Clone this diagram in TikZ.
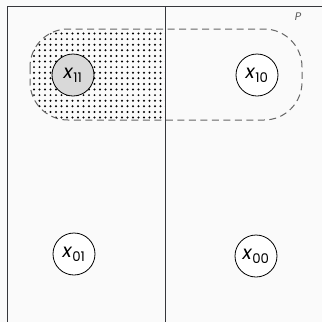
\documentclass[tikz,border=0pt]{standalone}
\usepackage{fontspec}
\setmainfont{Poppins}
\begin{document}
\begin{tikzpicture}[x=1pt,y=-1pt,
  framel/.style={draw=black!80!cyan!60!black, line width=1pt},
  var/.style={circle, draw=black, line width=0.8pt, minimum size=42pt, inner sep=0pt, font=\fontsize{19}{21}\selectfont, fill=white},
  region/.style={draw=black!60, dash pattern=on 7pt off 4.5pt, line width=1pt}]
\fill[black!2] (0,0) rectangle (322,322);
\useasboundingbox (0,0) rectangle (322,322);
% dotted fill of left half of region
\begin{scope}
  \clip[rounded corners=38pt] (30,29) rectangle (302,120);
  \clip (30,29) rectangle (165,120);
  \foreach \i in {0,...,25} {
    \foreach \j in {0,...,17} {
      \fill (34+5.5*\i, 33.5+5.6*\j) circle (1.1pt);
    }
  }
\end{scope}
\draw[region, rounded corners=38pt] (30,29) rectangle (302,120);
% frame
\draw[framel] (322,6) -- (7,6) -- (7,322);
\draw[framel] (165,6) -- (165,322);
\node[font=\fontsize{11}{13}\selectfont\itshape, text=black!65] (P) at (298,17) {P};
\node[var, fill=black!15] (x11) at (73,75) {\textit{x}\textsubscript{11}};
\node[var] (x10) at (257,75) {\textit{x}\textsubscript{10}};
\node[var] (x01) at (74,254) {\textit{x}\textsubscript{01}};
\node[var] (x00) at (256,256) {\textit{x}\textsubscript{00}};
\end{tikzpicture}
\end{document}
